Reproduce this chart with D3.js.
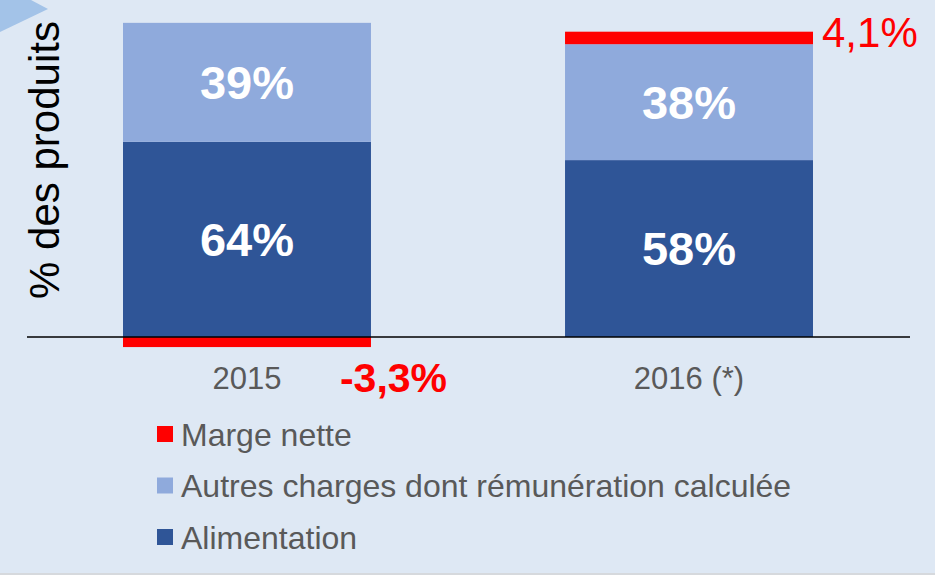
<!DOCTYPE html>
<html><head><meta charset="utf-8">
<script src="https://cdn.jsdelivr.net/npm/d3@7"></script>
<style>html,body{margin:0;padding:0;background:#fff;}svg{display:block;font-family:"Liberation Sans",Arial,sans-serif;}</style>
</head><body>
<script>
const categories = ["2015", "2016 (*)"];
const alimentation = [64, 58];
const autres = [39, 38];
const marge = [-3.3, 4.1];
const margeLabels = ["-3,3%", "4,1%"];
const seriesNames = ["Marge nette", "Autres charges dont rémunération calculée", "Alimentation"];
const colors = {alim: "#2f5597", autres: "#8faadc", marge: "#ff0000"};

const W = 935, H = 578;
const svg = d3.select("body").append("svg").attr("width", W).attr("height", H);
svg.append("rect").attr("width", W).attr("height", 573).attr("fill", "#dee8f4");
svg.append("rect").attr("y", 573).attr("width", W).attr("height", 2).attr("fill", "#d6d9dd");
svg.append("polygon").attr("points", "0,0 31,0 48,9 0,32").attr("fill", "#a3c3e8");

const x = d3.scaleBand().domain(categories).range([123, 813]).paddingInner(0.439).paddingOuter(0);
const y = d3.scaleLinear().domain([0, 100]).range([337, 32]);

const data = categories.map((c, i) => {
  const a = alimentation[i], o = autres[i], m = marge[i];
  return {c, segs: [
    {k: "alim", y0: 0, y1: a, label: a + "%"},
    {k: "autres", y0: a, y1: a + o, label: o + "%"},
    m >= 0 ? {k: "marge", y0: a + o, y1: a + o + m} : {k: "marge", y0: m, y1: 0}
  ], m, ml: margeLabels[i]};
});

const g = svg.append("g");
data.forEach(d => {
  d.segs.forEach(s => {
    g.append("rect").attr("x", x(d.c)).attr("width", x.bandwidth())
      .attr("y", y(s.y1)).attr("height", y(s.y0) - y(s.y1)).attr("fill", colors[s.k]);
    if (s.label) {
      g.append("text").attr("x", x(d.c) + x.bandwidth() / 2).attr("y", (y(s.y0) + y(s.y1)) / 2)
        .attr("dy", "0.36em").attr("text-anchor", "middle").attr("fill", "#fff")
        .attr("font-weight", "bold").attr("font-size", 47).text(s.label);
    }
  });
});

// axis
const axis = d3.axisBottom(x).tickSize(0).tickPadding(30);
const ax = svg.append("g").attr("transform", `translate(0,${y(0)})`).call(axis);
ax.select(".domain").attr("stroke", "#000").attr("stroke-width", 1.3).attr("d", "M27,0H910");
ax.selectAll("text").attr("font-size", 31).attr("fill", "#595959").attr("font-family", "Liberation Sans, Arial, sans-serif");

// marge labels
const d0 = data[0], d1 = data[1];
svg.append("text").attr("x", x(d0.c) + x.bandwidth() - 31).attr("y", 392)
  .attr("fill", "#ff0000").attr("font-weight", "bold").attr("font-size", 41).text(d0.ml);
svg.append("text").attr("x", x(d1.c) + x.bandwidth() + 9).attr("y", 47)
  .attr("fill", "#ff0000").attr("font-size", 42).text(d1.ml);

// y title
svg.append("text").attr("transform", "translate(59,160) rotate(-90)").attr("text-anchor", "middle")
  .attr("font-size", 42).attr("fill", "#000").text("% des produits");

// legend
const legColors = [colors.marge, colors.autres, colors.alim];
const leg = svg.append("g");
seriesNames.forEach((n, i) => {
  const cy = 434 + i * 51.5;
  leg.append("rect").attr("x", 157).attr("y", cy - 8).attr("width", 16).attr("height", 16).attr("fill", legColors[i]);
  leg.append("text").attr("x", 181).attr("y", cy).attr("dy", "0.36em").attr("font-size", 32)
    .attr("fill", "#595959").text(n);
});
</script>
</body></html>
